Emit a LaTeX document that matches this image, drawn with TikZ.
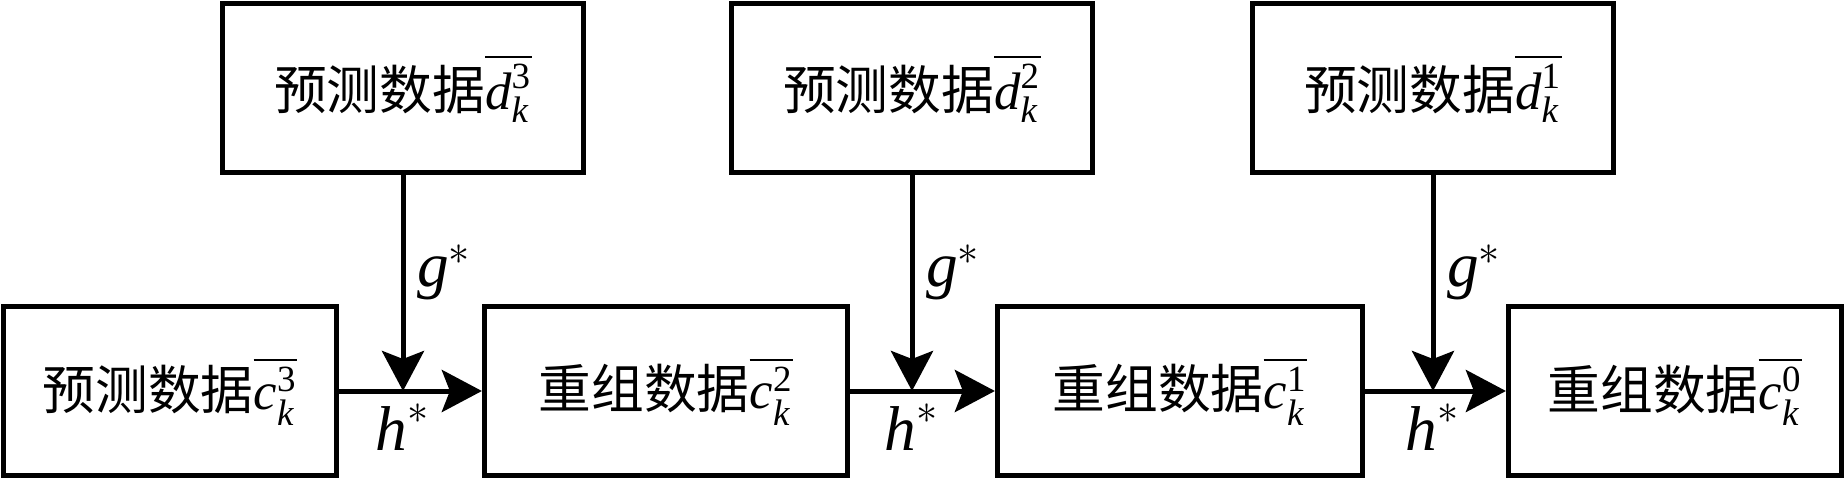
\documentclass[tikz,border=0pt]{standalone}
\usepackage{amsmath}
\usepackage{fontspec}
\setmainfont{Liberation Serif}
\newfontfamily\cjk{Noto Sans CJK SC}
\usetikzlibrary{arrows.meta}
\newcommand{\hz}[1]{{\cjk #1}}

\begin{document}
\begin{tikzpicture}[x=0.01cm, y=-0.01cm,
	box/.style={draw, line width=0.05cm, minimum height=1.68cm, inner sep=0pt, font=\fontsize{15}{18}\selectfont},
	arr/.style={line width=0.05cm, -{Stealth[length=0.4cm, width=0.42cm, inset=0.08cm]}},
	lab/.style={font=\fontsize{18}{22}\selectfont}]
	
	\useasboundingbox (0,0) rectangle (1846,479);
	\node[box, minimum width=3.6cm] (d3) at (403,88) {\hz{预测数据}$\overline{\textit{d}_{\textit{k}}^{\textup{3}}}$};
	\node[box, minimum width=3.6cm] (d2) at (912,88) {\hz{预测数据}$\overline{\textit{d}_{\textit{k}}^{\textup{2}}}$};
	\node[box, minimum width=3.6cm] (d1) at (1433,88) {\hz{预测数据}$\overline{\textit{d}_{\textit{k}}^{\textup{1}}}$};
	\node[box, minimum width=3.32cm] (c3) at (170,391) {\hz{预测数据}$\overline{\textit{c}_{\textit{k}}^{\textup{3}}}$};
	\node[box, minimum width=3.63cm] (c2) at (666,391) {\hz{重组数据}$\overline{\textit{c}_{\textit{k}}^{\textup{2}}}$};
	\node[box, minimum width=3.65cm] (c1) at (1180,391) {\hz{重组数据}$\overline{\textit{c}_{\textit{k}}^{\textup{1}}}$};
	\node[box, minimum width=3.33cm] (c0) at (1675,391) {\hz{重组数据}$\overline{\textit{c}_{\textit{k}}^{\textup{0}}}$};
	\coordinate (j3) at (d3.south |- c3.east);
	\coordinate (j2) at (d2.south |- c2.east);
	\coordinate (j1) at (d1.south |- c1.east);
	\draw[arr] (c3) -- (c2);
	\draw[arr] (c2) -- (c1);
	\draw[arr] (c1) -- (c0);
	\draw[arr] (d3) -- node[pos=0.45, right, lab]{$\textit{g}^{*}$} (j3);
	\draw[arr] (d2) -- node[pos=0.45, right, lab]{$\textit{g}^{*}$} (j2);
	\draw[arr] (d1) -- node[pos=0.45, right, lab]{$\textit{g}^{*}$} (j1);
	\node[below, lab] (h3) at (j3) {$\textit{h}^{*}$};
	\node[below, lab] (h2) at (j2) {$\textit{h}^{*}$};
	\node[below, lab] (h1) at (j1) {$\textit{h}^{*}$};
	\end{tikzpicture}
\end{document}
